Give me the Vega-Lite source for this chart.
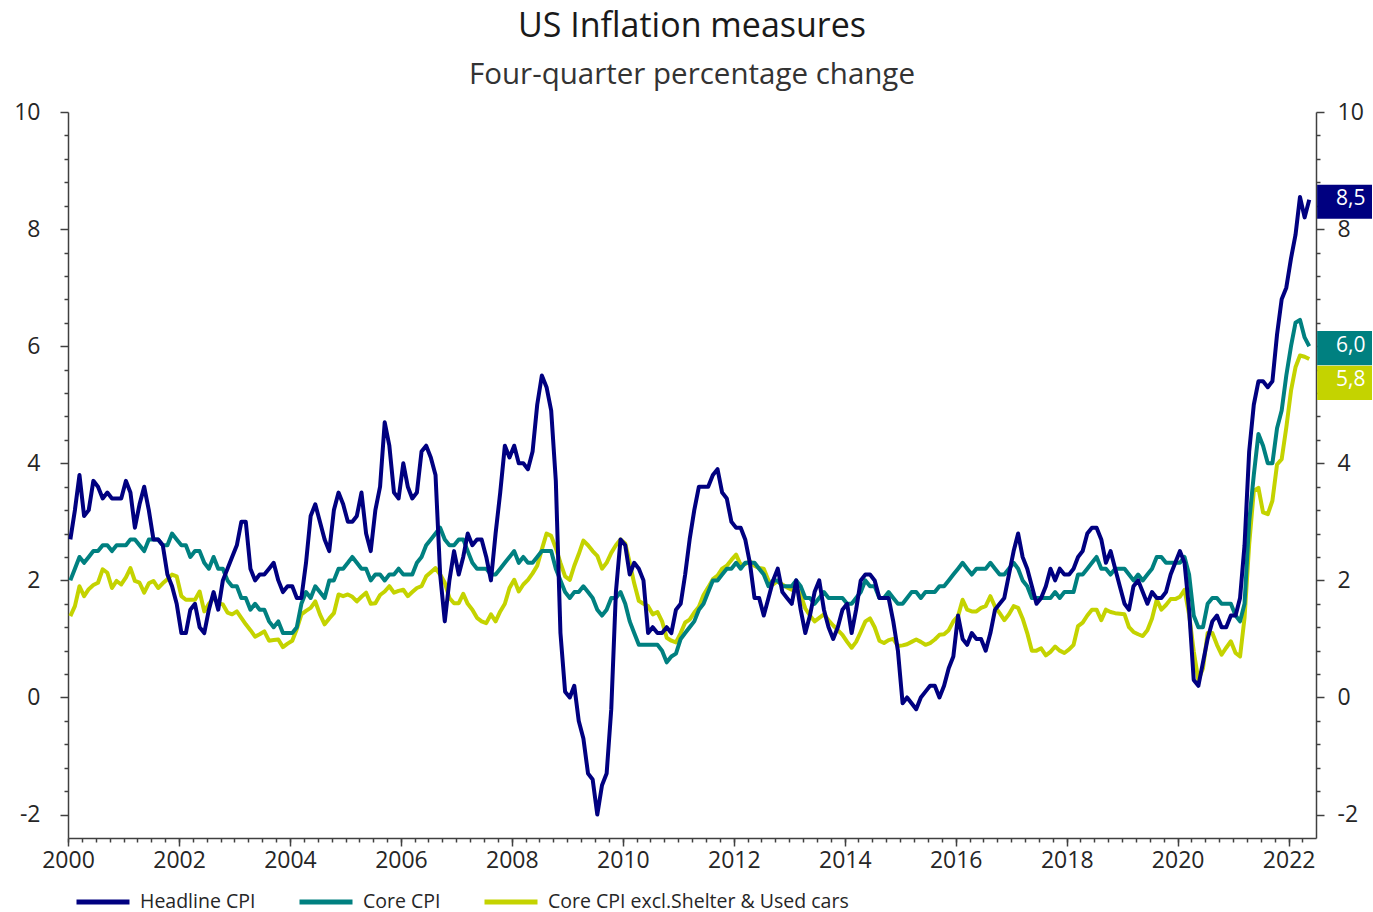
{
  "$schema": "https://vega.github.io/schema/vega-lite/v6.json",
  "width": 1248,
  "height": 726,
  "autosize": {"type": "none"},
  "padding": {"left": 68, "top": 112, "right": 57, "bottom": 74},
  "background": "white",
  "config": {"view": {"stroke": null}, "font": "Open Sans"},
  "title": {
    "text": "US Inflation measures",
    "subtitle": "Four-quarter percentage change",
    "font": "Open Sans",
    "fontSize": 34,
    "fontWeight": "normal",
    "color": "#1a1a1a",
    "subtitleFont": "Open Sans",
    "subtitleFontSize": 29.5,
    "subtitleColor": "#333333",
    "anchor": "middle",
    "frame": "group",
    "offset": 12,
    "subtitlePadding": 17
  },
  "datasets": {
    "cpi": [
      {"d":"2000-01","h":2.7,"c":2.0,"x":1.39},{"d":"2000-02","h":3.2,"c":2.2,"x":1.56},{"d":"2000-03","h":3.8,"c":2.4,"x":1.90},{"d":"2000-04","h":3.1,"c":2.3,"x":1.73},{"d":"2000-05","h":3.2,"c":2.4,"x":1.85},{"d":"2000-06","h":3.7,"c":2.5,"x":1.92},{"d":"2000-07","h":3.6,"c":2.5,"x":1.96},{"d":"2000-08","h":3.4,"c":2.6,"x":2.19},{"d":"2000-09","h":3.5,"c":2.6,"x":2.13},{"d":"2000-10","h":3.4,"c":2.5,"x":1.87},{"d":"2000-11","h":3.4,"c":2.6,"x":1.99},{"d":"2000-12","h":3.4,"c":2.6,"x":1.93},
      {"d":"2001-01","h":3.7,"c":2.6,"x":2.05},{"d":"2001-02","h":3.5,"c":2.7,"x":2.21},{"d":"2001-03","h":2.9,"c":2.7,"x":1.99},{"d":"2001-04","h":3.3,"c":2.6,"x":1.96},{"d":"2001-05","h":3.6,"c":2.5,"x":1.79},{"d":"2001-06","h":3.2,"c":2.7,"x":1.95},{"d":"2001-07","h":2.7,"c":2.7,"x":1.99},{"d":"2001-08","h":2.7,"c":2.7,"x":1.87},{"d":"2001-09","h":2.6,"c":2.6,"x":1.95},{"d":"2001-10","h":2.1,"c":2.6,"x":2.02},{"d":"2001-11","h":1.9,"c":2.8,"x":2.10},{"d":"2001-12","h":1.6,"c":2.7,"x":2.07},
      {"d":"2002-01","h":1.1,"c":2.6,"x":1.73},{"d":"2002-02","h":1.1,"c":2.6,"x":1.67},{"d":"2002-03","h":1.5,"c":2.4,"x":1.67},{"d":"2002-04","h":1.6,"c":2.5,"x":1.67},{"d":"2002-05","h":1.2,"c":2.5,"x":1.81},{"d":"2002-06","h":1.1,"c":2.3,"x":1.47},{"d":"2002-07","h":1.5,"c":2.2,"x":1.60},{"d":"2002-08","h":1.8,"c":2.4,"x":1.70},{"d":"2002-09","h":1.5,"c":2.2,"x":1.61},{"d":"2002-10","h":2.0,"c":2.2,"x":1.59},{"d":"2002-11","h":2.2,"c":2.0,"x":1.45},{"d":"2002-12","h":2.4,"c":1.9,"x":1.42},
      {"d":"2003-01","h":2.6,"c":1.9,"x":1.47},{"d":"2003-02","h":3.0,"c":1.7,"x":1.36},{"d":"2003-03","h":3.0,"c":1.7,"x":1.25},{"d":"2003-04","h":2.2,"c":1.5,"x":1.15},{"d":"2003-05","h":2.0,"c":1.6,"x":1.04},{"d":"2003-06","h":2.1,"c":1.5,"x":1.08},{"d":"2003-07","h":2.1,"c":1.5,"x":1.13},{"d":"2003-08","h":2.2,"c":1.3,"x":0.97},{"d":"2003-09","h":2.3,"c":1.2,"x":0.98},{"d":"2003-10","h":2.0,"c":1.3,"x":0.99},{"d":"2003-11","h":1.8,"c":1.1,"x":0.86},{"d":"2003-12","h":1.9,"c":1.1,"x":0.92},
      {"d":"2004-01","h":1.9,"c":1.1,"x":0.97},{"d":"2004-02","h":1.7,"c":1.2,"x":1.17},{"d":"2004-03","h":1.7,"c":1.6,"x":1.42},{"d":"2004-04","h":2.3,"c":1.8,"x":1.48},{"d":"2004-05","h":3.1,"c":1.7,"x":1.53},{"d":"2004-06","h":3.3,"c":1.9,"x":1.64},{"d":"2004-07","h":3.0,"c":1.8,"x":1.42},{"d":"2004-08","h":2.7,"c":1.7,"x":1.25},{"d":"2004-09","h":2.5,"c":2.0,"x":1.35},{"d":"2004-10","h":3.2,"c":2.0,"x":1.44},{"d":"2004-11","h":3.5,"c":2.2,"x":1.76},{"d":"2004-12","h":3.3,"c":2.2,"x":1.73},
      {"d":"2005-01","h":3.0,"c":2.3,"x":1.76},{"d":"2005-02","h":3.0,"c":2.4,"x":1.72},{"d":"2005-03","h":3.1,"c":2.3,"x":1.64},{"d":"2005-04","h":3.5,"c":2.2,"x":1.72},{"d":"2005-05","h":2.8,"c":2.2,"x":1.79},{"d":"2005-06","h":2.5,"c":2.0,"x":1.60},{"d":"2005-07","h":3.2,"c":2.1,"x":1.61},{"d":"2005-08","h":3.6,"c":2.1,"x":1.75},{"d":"2005-09","h":4.7,"c":2.0,"x":1.81},{"d":"2005-10","h":4.3,"c":2.1,"x":1.90},{"d":"2005-11","h":3.5,"c":2.1,"x":1.79},{"d":"2005-12","h":3.4,"c":2.2,"x":1.82},
      {"d":"2006-01","h":4.0,"c":2.1,"x":1.84},{"d":"2006-02","h":3.6,"c":2.1,"x":1.73},{"d":"2006-03","h":3.4,"c":2.1,"x":1.80},{"d":"2006-04","h":3.5,"c":2.3,"x":1.87},{"d":"2006-05","h":4.2,"c":2.4,"x":1.90},{"d":"2006-06","h":4.3,"c":2.6,"x":2.07},{"d":"2006-07","h":4.1,"c":2.7,"x":2.14},{"d":"2006-08","h":3.8,"c":2.8,"x":2.21},{"d":"2006-09","h":2.1,"c":2.9,"x":2.10},{"d":"2006-10","h":1.3,"c":2.7,"x":1.96},{"d":"2006-11","h":2.0,"c":2.6,"x":1.70},{"d":"2006-12","h":2.5,"c":2.6,"x":1.61},
      {"d":"2007-01","h":2.1,"c":2.7,"x":1.61},{"d":"2007-02","h":2.4,"c":2.7,"x":1.77},{"d":"2007-03","h":2.8,"c":2.5,"x":1.60},{"d":"2007-04","h":2.6,"c":2.3,"x":1.50},{"d":"2007-05","h":2.7,"c":2.2,"x":1.36},{"d":"2007-06","h":2.7,"c":2.2,"x":1.30},{"d":"2007-07","h":2.4,"c":2.2,"x":1.27},{"d":"2007-08","h":2.0,"c":2.1,"x":1.42},{"d":"2007-09","h":2.8,"c":2.1,"x":1.30},{"d":"2007-10","h":3.5,"c":2.2,"x":1.47},{"d":"2007-11","h":4.3,"c":2.3,"x":1.60},{"d":"2007-12","h":4.1,"c":2.4,"x":1.87},
      {"d":"2008-01","h":4.3,"c":2.5,"x":2.01},{"d":"2008-02","h":4.0,"c":2.3,"x":1.81},{"d":"2008-03","h":4.0,"c":2.4,"x":1.93},{"d":"2008-04","h":3.9,"c":2.3,"x":2.01},{"d":"2008-05","h":4.2,"c":2.3,"x":2.12},{"d":"2008-06","h":5.0,"c":2.4,"x":2.25},{"d":"2008-07","h":5.5,"c":2.5,"x":2.53},{"d":"2008-08","h":5.3,"c":2.5,"x":2.80},{"d":"2008-09","h":4.9,"c":2.5,"x":2.76},{"d":"2008-10","h":3.7,"c":2.2,"x":2.55},{"d":"2008-11","h":1.1,"c":2.0,"x":2.30},{"d":"2008-12","h":0.1,"c":1.8,"x":2.07},
      {"d":"2009-01","h":0.0,"c":1.7,"x":2.01},{"d":"2009-02","h":0.2,"c":1.8,"x":2.25},{"d":"2009-03","h":-0.4,"c":1.8,"x":2.45},{"d":"2009-04","h":-0.7,"c":1.9,"x":2.68},{"d":"2009-05","h":-1.3,"c":1.8,"x":2.60},{"d":"2009-06","h":-1.4,"c":1.7,"x":2.50},{"d":"2009-07","h":-2.0,"c":1.5,"x":2.42},{"d":"2009-08","h":-1.5,"c":1.4,"x":2.20},{"d":"2009-09","h":-1.3,"c":1.5,"x":2.30},{"d":"2009-10","h":-0.2,"c":1.7,"x":2.47},{"d":"2009-11","h":1.8,"c":1.7,"x":2.60},{"d":"2009-12","h":2.7,"c":1.8,"x":2.70},
      {"d":"2010-01","h":2.6,"c":1.6,"x":2.63},{"d":"2010-02","h":2.1,"c":1.3,"x":2.30},{"d":"2010-03","h":2.3,"c":1.1,"x":1.95},{"d":"2010-04","h":2.2,"c":0.9,"x":1.65},{"d":"2010-05","h":2.0,"c":0.9,"x":1.60},{"d":"2010-06","h":1.1,"c":0.9,"x":1.56},{"d":"2010-07","h":1.2,"c":0.9,"x":1.42},{"d":"2010-08","h":1.1,"c":0.9,"x":1.46},{"d":"2010-09","h":1.1,"c":0.8,"x":1.30},{"d":"2010-10","h":1.2,"c":0.6,"x":1.02},{"d":"2010-11","h":1.1,"c":0.7,"x":0.97},{"d":"2010-12","h":1.5,"c":0.75,"x":0.94},
      {"d":"2011-01","h":1.6,"c":1.0,"x":1.10},{"d":"2011-02","h":2.1,"c":1.1,"x":1.28},{"d":"2011-03","h":2.7,"c":1.2,"x":1.33},{"d":"2011-04","h":3.2,"c":1.3,"x":1.45},{"d":"2011-05","h":3.6,"c":1.5,"x":1.55},{"d":"2011-06","h":3.6,"c":1.6,"x":1.75},{"d":"2011-07","h":3.6,"c":1.8,"x":1.88},{"d":"2011-08","h":3.8,"c":2.0,"x":2.02},{"d":"2011-09","h":3.9,"c":2.0,"x":2.08},{"d":"2011-10","h":3.5,"c":2.1,"x":2.20},{"d":"2011-11","h":3.4,"c":2.2,"x":2.25},{"d":"2011-12","h":3.0,"c":2.2,"x":2.35},
      {"d":"2012-01","h":2.9,"c":2.3,"x":2.44},{"d":"2012-02","h":2.9,"c":2.2,"x":2.26},{"d":"2012-03","h":2.7,"c":2.3,"x":2.28},{"d":"2012-04","h":2.3,"c":2.3,"x":2.33},{"d":"2012-05","h":1.7,"c":2.3,"x":2.25},{"d":"2012-06","h":1.7,"c":2.2,"x":2.21},{"d":"2012-07","h":1.4,"c":2.1,"x":2.20},{"d":"2012-08","h":1.7,"c":1.9,"x":2.00},{"d":"2012-09","h":2.0,"c":2.0,"x":1.93},{"d":"2012-10","h":2.2,"c":2.0,"x":1.99},{"d":"2012-11","h":1.8,"c":1.9,"x":1.93},{"d":"2012-12","h":1.7,"c":1.9,"x":1.88},
      {"d":"2013-01","h":1.6,"c":1.9,"x":1.84},{"d":"2013-02","h":2.0,"c":2.0,"x":1.88},{"d":"2013-03","h":1.5,"c":1.9,"x":1.75},{"d":"2013-04","h":1.1,"c":1.7,"x":1.52},{"d":"2013-05","h":1.4,"c":1.7,"x":1.40},{"d":"2013-06","h":1.8,"c":1.6,"x":1.30},{"d":"2013-07","h":2.0,"c":1.7,"x":1.36},{"d":"2013-08","h":1.5,"c":1.8,"x":1.42},{"d":"2013-09","h":1.2,"c":1.7,"x":1.32},{"d":"2013-10","h":1.0,"c":1.7,"x":1.23},{"d":"2013-11","h":1.2,"c":1.7,"x":1.15},{"d":"2013-12","h":1.5,"c":1.7,"x":1.07},
      {"d":"2014-01","h":1.6,"c":1.6,"x":0.95},{"d":"2014-02","h":1.1,"c":1.6,"x":0.85},{"d":"2014-03","h":1.5,"c":1.7,"x":0.95},{"d":"2014-04","h":2.0,"c":1.8,"x":1.12},{"d":"2014-05","h":2.1,"c":2.0,"x":1.30},{"d":"2014-06","h":2.1,"c":1.9,"x":1.35},{"d":"2014-07","h":2.0,"c":1.9,"x":1.20},{"d":"2014-08","h":1.7,"c":1.7,"x":0.97},{"d":"2014-09","h":1.7,"c":1.7,"x":0.93},{"d":"2014-10","h":1.7,"c":1.8,"x":0.98},{"d":"2014-11","h":1.3,"c":1.7,"x":1.00},{"d":"2014-12","h":0.8,"c":1.6,"x":0.88},
      {"d":"2015-01","h":-0.1,"c":1.6,"x":0.89},{"d":"2015-02","h":0.0,"c":1.7,"x":0.91},{"d":"2015-03","h":-0.1,"c":1.8,"x":0.95},{"d":"2015-04","h":-0.2,"c":1.8,"x":0.99},{"d":"2015-05","h":0.0,"c":1.7,"x":0.95},{"d":"2015-06","h":0.1,"c":1.8,"x":0.90},{"d":"2015-07","h":0.2,"c":1.8,"x":0.93},{"d":"2015-08","h":0.2,"c":1.8,"x":0.99},{"d":"2015-09","h":0.0,"c":1.9,"x":1.07},{"d":"2015-10","h":0.2,"c":1.9,"x":1.08},{"d":"2015-11","h":0.5,"c":2.0,"x":1.15},{"d":"2015-12","h":0.7,"c":2.1,"x":1.30},
      {"d":"2016-01","h":1.4,"c":2.2,"x":1.39},{"d":"2016-02","h":1.0,"c":2.3,"x":1.67},{"d":"2016-03","h":0.9,"c":2.2,"x":1.50},{"d":"2016-04","h":1.1,"c":2.1,"x":1.47},{"d":"2016-05","h":1.0,"c":2.2,"x":1.47},{"d":"2016-06","h":1.0,"c":2.2,"x":1.53},{"d":"2016-07","h":0.8,"c":2.2,"x":1.56},{"d":"2016-08","h":1.1,"c":2.3,"x":1.73},{"d":"2016-09","h":1.5,"c":2.2,"x":1.55},{"d":"2016-10","h":1.6,"c":2.1,"x":1.44},{"d":"2016-11","h":1.7,"c":2.1,"x":1.32},{"d":"2016-12","h":2.1,"c":2.2,"x":1.42},
      {"d":"2017-01","h":2.5,"c":2.3,"x":1.56},{"d":"2017-02","h":2.8,"c":2.2,"x":1.53},{"d":"2017-03","h":2.4,"c":2.0,"x":1.35},{"d":"2017-04","h":2.2,"c":1.9,"x":1.10},{"d":"2017-05","h":1.9,"c":1.7,"x":0.80},{"d":"2017-06","h":1.6,"c":1.7,"x":0.80},{"d":"2017-07","h":1.7,"c":1.7,"x":0.84},{"d":"2017-08","h":1.9,"c":1.7,"x":0.72},{"d":"2017-09","h":2.2,"c":1.7,"x":0.78},{"d":"2017-10","h":2.0,"c":1.8,"x":0.87},{"d":"2017-11","h":2.2,"c":1.7,"x":0.80},{"d":"2017-12","h":2.1,"c":1.8,"x":0.76},
      {"d":"2018-01","h":2.1,"c":1.8,"x":0.82},{"d":"2018-02","h":2.2,"c":1.8,"x":0.90},{"d":"2018-03","h":2.4,"c":2.1,"x":1.22},{"d":"2018-04","h":2.5,"c":2.1,"x":1.28},{"d":"2018-05","h":2.8,"c":2.2,"x":1.40},{"d":"2018-06","h":2.9,"c":2.3,"x":1.50},{"d":"2018-07","h":2.9,"c":2.4,"x":1.50},{"d":"2018-08","h":2.7,"c":2.2,"x":1.32},{"d":"2018-09","h":2.3,"c":2.2,"x":1.50},{"d":"2018-10","h":2.5,"c":2.1,"x":1.46},{"d":"2018-11","h":2.2,"c":2.2,"x":1.44},{"d":"2018-12","h":1.9,"c":2.2,"x":1.43},
      {"d":"2019-01","h":1.6,"c":2.2,"x":1.42},{"d":"2019-02","h":1.5,"c":2.1,"x":1.20},{"d":"2019-03","h":1.9,"c":2.0,"x":1.12},{"d":"2019-04","h":2.0,"c":2.1,"x":1.08},{"d":"2019-05","h":1.8,"c":2.0,"x":1.05},{"d":"2019-06","h":1.6,"c":2.1,"x":1.15},{"d":"2019-07","h":1.8,"c":2.2,"x":1.35},{"d":"2019-08","h":1.7,"c":2.4,"x":1.67},{"d":"2019-09","h":1.7,"c":2.4,"x":1.50},{"d":"2019-10","h":1.8,"c":2.3,"x":1.58},{"d":"2019-11","h":2.1,"c":2.3,"x":1.68},{"d":"2019-12","h":2.3,"c":2.3,"x":1.68},
      {"d":"2020-01","h":2.5,"c":2.3,"x":1.72},{"d":"2020-02","h":2.3,"c":2.4,"x":1.84},{"d":"2020-03","h":1.5,"c":2.1,"x":1.42},{"d":"2020-04","h":0.3,"c":1.4,"x":0.79},{"d":"2020-05","h":0.2,"c":1.2,"x":0.30},{"d":"2020-06","h":0.6,"c":1.2,"x":0.50},{"d":"2020-07","h":1.0,"c":1.6,"x":1.10},{"d":"2020-08","h":1.3,"c":1.7,"x":1.10},{"d":"2020-09","h":1.4,"c":1.7,"x":0.90},{"d":"2020-10","h":1.2,"c":1.6,"x":0.73},{"d":"2020-11","h":1.2,"c":1.6,"x":0.85},{"d":"2020-12","h":1.4,"c":1.6,"x":0.96},
      {"d":"2021-01","h":1.4,"c":1.4,"x":0.76},{"d":"2021-02","h":1.7,"c":1.3,"x":0.70},{"d":"2021-03","h":2.6,"c":1.6,"x":1.36},{"d":"2021-04","h":4.2,"c":3.0,"x":2.61},{"d":"2021-05","h":5.0,"c":3.8,"x":3.53},{"d":"2021-06","h":5.4,"c":4.5,"x":3.58},{"d":"2021-07","h":5.4,"c":4.3,"x":3.16},{"d":"2021-08","h":5.3,"c":4.0,"x":3.13},{"d":"2021-09","h":5.4,"c":4.0,"x":3.36},{"d":"2021-10","h":6.2,"c":4.6,"x":3.98},{"d":"2021-11","h":6.8,"c":4.9,"x":4.07},{"d":"2021-12","h":7.0,"c":5.5,"x":4.61},
      {"d":"2022-01","h":7.5,"c":6.0,"x":5.24},{"d":"2022-02","h":7.9,"c":6.4,"x":5.64},{"d":"2022-03","h":8.55,"c":6.45,"x":5.84},{"d":"2022-04","h":8.2,"c":6.15,"x":5.82},{"d":"2022-05","h":8.5,"c":6.0,"x":5.78}
    ],
    "last": [
      {"s": "h", "v": 8.5, "t": "8,5"},
      {"s": "c", "v": 6.0, "t": "6,0"},
      {"s": "x", "v": 5.8, "t": "5,8"}
    ]
  },
  "layer": [
    {
      "mark": {"type": "rule", "color": "#404040", "strokeWidth": 1.2},
      "encoding": {
        "y": {"datum": 0, "type": "quantitative", "scale": {"domain": [-2.4, 10], "nice": false, "zero": false}, "axis": null}
      }
    },
    {
      "data": {"name": "cpi"},
      "transform": [{"fold": ["x", "c", "h"], "as": ["s", "v"]}],
      "mark": {"type": "line", "strokeWidth": 4, "strokeJoin": "round", "clip": true},
      "encoding": {
        "x": {
          "field": "d", "timeUnit": "utcyearmonth", "type": "temporal", "bandPosition": 0.5,
          "scale": {"type": "utc", "domain": [{"year": 2000, "month": 1, "date": 1, "utc": true}, {"year": 2022, "month": 6, "date": 30, "utc": true}], "nice": false},
          "axis": {
            "orient": "bottom",
            "title": null,
            "grid": false,
            "values": [
              {"year": 2000, "month": 1, "date": 1, "utc": true}, {"year": 2002, "month": 1, "date": 1, "utc": true},
              {"year": 2004, "month": 1, "date": 1, "utc": true}, {"year": 2006, "month": 1, "date": 1, "utc": true},
              {"year": 2008, "month": 1, "date": 1, "utc": true}, {"year": 2010, "month": 1, "date": 1, "utc": true},
              {"year": 2012, "month": 1, "date": 1, "utc": true}, {"year": 2014, "month": 1, "date": 1, "utc": true},
              {"year": 2016, "month": 1, "date": 1, "utc": true}, {"year": 2018, "month": 1, "date": 1, "utc": true},
              {"year": 2020, "month": 1, "date": 1, "utc": true}, {"year": 2022, "month": 1, "date": 1, "utc": true}
            ],
            "format": "%Y",
            "tickSize": 8,
            "labelOverlap": false,
            "labelFlush": false,
            "domainColor": "#404040",
            "domainWidth": 1.5,
            "tickColor": "#404040",
            "tickWidth": 1.5,
            "labelFont": "Open Sans",
            "labelFontSize": 23,
            "labelColor": "#262626",
            "labelPadding": 3
          }
        },
        "y": {
          "field": "v", "type": "quantitative",
          "scale": {"domain": [-2.4, 10], "nice": false, "zero": false},
          "axis": {
            "orient": "left",
            "title": null,
            "grid": false,
            "values": [-2, -1.6, -1.2, -0.8, -0.4, 0, 0.4, 0.8, 1.2, 1.6, 2, 2.4, 2.8, 3.2, 3.6, 4, 4.4, 4.8, 5.2, 5.6, 6, 6.4, 6.8, 7.2, 7.6, 8, 8.4, 8.8, 9.2, 9.6, 10],
            "labelExpr": "datum.value % 2 == 0 ? toString(datum.value) : ''",
            "tickSize": {"condition": {"test": "datum.value % 2 == 0", "value": 8}, "value": 4},
            "labelOverlap": false,
            "domainColor": "#404040",
            "domainWidth": 1.5,
            "tickColor": "#404040",
            "tickWidth": 1.5,
            "labelFont": "Open Sans",
            "labelFontSize": 23,
            "labelColor": "#262626",
            "labelPadding": 20
          }
        },
        "color": {
          "field": "s", "type": "nominal",
          "scale": {"domain": ["h", "c", "x"], "range": ["#000080", "#008080", "#c4d300"]},
          "legend": {
            "orient": "none",
            "legendX": 6,
            "legendY": 761,
            "direction": "horizontal",
            "title": null,
            "symbolType": "stroke",
            "symbolStrokeWidth": 5,
            "symbolSize": 2809,
            "labelFont": "Open Sans",
            "labelFontSize": 19.5,
            "labelColor": "#262626",
            "labelOffset": 8,
            "labelLimit": 500,
            "columnPadding": 33,
            "labelExpr": "datum.value == 'h' ? 'Headline CPI' : datum.value == 'c' ? 'Core CPI' : 'Core CPI excl.Shelter & Used cars'"
          }
        }
      }
    },
    {
      "data": {"name": "last"},
      "transform": [{"filter": "datum.s != 'x'"}],
      "mark": {"type": "point", "shape": "M0.04,-0.54H2V0.68H0.04Z", "size": 3136, "filled": true, "opacity": 1, "strokeWidth": 0, "clip": false},
      "encoding": {
        "x": {"datum": {"year": 2022, "month": 6, "date": 30, "utc": true}, "type": "temporal", "axis": null},
        "y": {
          "field": "v", "type": "quantitative",
          "scale": {"domain": [-2.4, 10], "nice": false, "zero": false},
          "axis": {
            "orient": "right",
            "title": null,
            "grid": false,
            "values": [-2, -1.6, -1.2, -0.8, -0.4, 0, 0.4, 0.8, 1.2, 1.6, 2, 2.4, 2.8, 3.2, 3.6, 4, 4.4, 4.8, 5.2, 5.6, 6, 6.4, 6.8, 7.2, 7.6, 8, 8.4, 8.8, 9.2, 9.6, 10],
            "labelExpr": "datum.value % 2 == 0 && datum.value != 6 ? toString(datum.value) : ''",
            "tickSize": {"condition": {"test": "datum.value % 2 == 0", "value": 8}, "value": 4},
            "labelOverlap": false,
            "domainColor": "#404040",
            "domainWidth": 1.5,
            "tickColor": "#404040",
            "tickWidth": 1.5,
            "labelFont": "Open Sans",
            "labelFontSize": 23,
            "labelColor": "#262626",
            "labelPadding": 13
          }
        },
        "color": {"field": "s", "type": "nominal", "legend": null}
      }
    },
    {
      "data": {"name": "last"},
      "transform": [{"filter": "datum.s == 'x'"}],
      "mark": {"type": "point", "shape": "M0.04,-0.54H2V0.68H0.04Z", "size": 3136, "filled": true, "opacity": 1, "strokeWidth": 0, "clip": false, "yOffset": 23},
      "encoding": {
        "x": {
          "datum": {"year": 2022, "month": 6, "date": 30, "utc": true}, "type": "temporal",
          "axis": {
            "orient": "bottom",
            "title": null,
            "grid": false,
            "domain": false,
            "labels": false,
            "ticks": true,
            "tickCount": {"interval": "month", "step": 3},
            "tickSize": 4,
            "tickColor": "#404040",
            "tickWidth": 1.5
          }
        },
        "y": {"field": "v", "type": "quantitative", "scale": {"domain": [-2.4, 10], "nice": false, "zero": false}, "axis": null},
        "color": {"field": "s", "type": "nominal", "legend": null}
      }
    },
    {
      "data": {"name": "last"},
      "transform": [{"filter": "datum.s != 'x'"}],
      "mark": {"type": "text", "align": "right", "baseline": "alphabetic", "dx": 49.5, "dy": 5.5, "fontSize": 21, "font": "Open Sans", "color": "white", "clip": false},
      "encoding": {
        "x": {"datum": {"year": 2022, "month": 6, "date": 30, "utc": true}, "type": "temporal", "axis": null},
        "y": {"field": "v", "type": "quantitative", "scale": {"domain": [-2.4, 10], "nice": false, "zero": false}, "axis": null},
        "text": {"field": "t"}
      }
    },
    {
      "data": {"name": "last"},
      "transform": [{"filter": "datum.s == 'x'"}],
      "mark": {"type": "text", "align": "right", "baseline": "alphabetic", "dx": 49.5, "dy": 28.5, "fontSize": 21, "font": "Open Sans", "color": "white", "clip": false},
      "encoding": {
        "x": {"datum": {"year": 2022, "month": 6, "date": 30, "utc": true}, "type": "temporal", "axis": null},
        "y": {"field": "v", "type": "quantitative", "scale": {"domain": [-2.4, 10], "nice": false, "zero": false}, "axis": null},
        "text": {"field": "t"}
      }
    }
  ],
  "resolve": {"axis": {"y": "independent", "x": "independent"}}
}
